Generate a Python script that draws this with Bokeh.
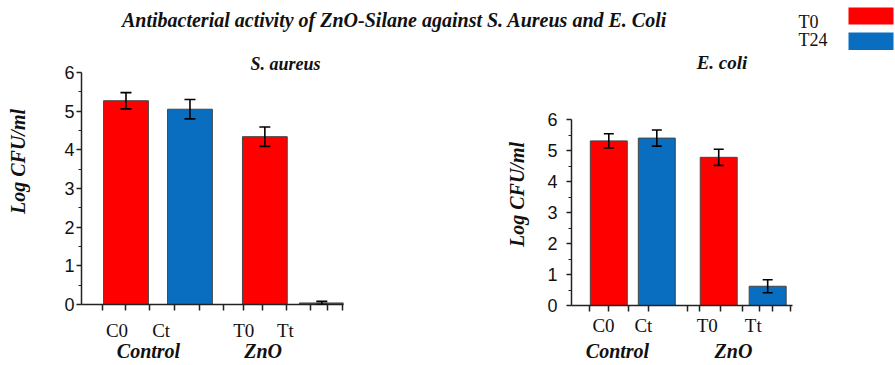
import math
from bokeh.plotting import figure
from bokeh.models import (Range1d, FixedTicker, Label, Whisker, TeeHead,
                          ColumnDataSource, LinearAxis, Title)
from bokeh.layouts import column, row
from bokeh.embed import file_html
from bokeh.resources import INLINE

# ---------------- data ----------------
title_text = "Antibacterial activity of ZnO-Silane against S. Aureus and E. Coli"
samples = ["C0", "Ct", "T0", "Tt"]
groups = ["Control", "ZnO"]
sample_time = ["T0", "T24", "T0", "T24"]
legend_labels = ["T0", "T24"]
y_ticks = [0, 1, 2, 3, 4, 5, 6]

sa_name = "S. aureus"
sa_values = [5.27, 5.05, 4.34, 0.04]
sa_errors = [0.21, 0.25, 0.25, 0.04]

ec_name = "E. coli"
ec_values = [5.31, 5.40, 4.78, 0.62]
ec_errors = [0.23, 0.26, 0.26, 0.21]

y_label = "Log CFU/ml"

# ---------------- style ----------------
RED = "#ff0000"
BLUE = "#0a6ec0"
time_colors = {"T0": RED, "T24": BLUE}
SERIF = "Liberation Serif"
SANS = "Liberation Sans"
TOP_H = 50
PANEL_H = 365 - TOP_H
NAME_H = 24


def strip(width, height, x_range, y_range):
    s = figure(width=width, height=height, output_backend="svg",
               toolbar_location=None, x_range=Range1d(*x_range),
               y_range=Range1d(*y_range), x_axis_type=None, y_axis_type=None,
               min_border_left=0, min_border_right=0, min_border_top=0,
               min_border_bottom=0)
    s.frame_align = False
    s.outline_line_color = None
    s.xgrid.visible = False
    s.ygrid.visible = False
    return s


def ylabel_strip(width, cx, cy):
    s = strip(width, PANEL_H, (0, width), (PANEL_H, 0))
    s.add_layout(Label(x=cx, y=cy, text=y_label, angle=math.pi / 2,
                       text_font=SERIF, text_font_style="bold italic",
                       text_font_size="20px", text_align="center",
                       text_baseline="middle", text_color="#111111"))
    return s


def panel(vals, errs, cfg, height):
    p = figure(width=cfg["width"], height=height, output_backend="svg",
               toolbar_location=None,
               x_range=Range1d(*cfg["xr"]), y_range=Range1d(0, 6),
               min_border_left=cfg["bl"], min_border_right=cfg["br"],
               min_border_top=cfg["bt"], min_border_bottom=cfg["bb"])
    p.frame_align = False
    p.outline_line_color = None
    p.xgrid.visible = False
    p.ygrid.visible = False

    src = ColumnDataSource(dict(
        x=cfg["bar_x"], top=vals,
        upper=[v + e for v, e in zip(vals, errs)],
        lower=[max(v - e, 0) for v, e in zip(vals, errs)],
        color=[time_colors[t] for t in sample_time]))
    p.vbar(x="x", top="top", width=cfg["bar_w"], source=src,
           fill_color="color", line_color="#444444", line_width=1)
    w = Whisker(source=src, base="x", upper="upper", lower="lower",
                line_color="black", line_width=1.6, level="overlay",
                upper_head=TeeHead(size=cfg["cap"], line_width=1.6, line_color="black"),
                lower_head=TeeHead(size=cfg["cap"], line_width=1.6, line_color="black"))
    p.add_layout(w)

    # y axis
    ya = p.yaxis[0]
    ya.ticker = FixedTicker(ticks=y_ticks, minor_ticks=[t + 0.5 for t in y_ticks[:-1]])
    ya.axis_line_color = "#222222"
    ya.axis_line_width = 1.5
    ya.major_tick_line_color = "#222222"
    ya.major_tick_line_width = 1.5
    ya.minor_tick_line_color = "#222222"
    ya.minor_tick_line_width = 1.2
    ya.major_tick_in = 0
    ya.major_tick_out = 5
    ya.minor_tick_in = 0
    ya.minor_tick_out = 3
    ya.major_label_standoff = cfg["ystand"]
    ya.major_label_text_font = SANS
    ya.major_label_text_font_size = "18px"
    ya.major_label_text_color = "#111111"

    # x axis: sample labels
    xa = p.xaxis[0]
    xa.ticker = FixedTicker(ticks=cfg["label_x"], minor_ticks=cfg["marks"])
    xa.major_label_overrides = {float(x): s for x, s in zip(cfg["label_x"], samples)}
    xa.axis_line_color = "#222222"
    xa.axis_line_width = 1.5
    xa.major_tick_line_color = None
    xa.major_tick_in = 0
    xa.major_tick_out = 0
    xa.minor_tick_line_color = "#222222"
    xa.minor_tick_line_width = 1.5
    xa.minor_tick_in = 0
    xa.minor_tick_out = 6
    xa.major_label_standoff = cfg["xstand"]
    xa.major_label_text_font = SERIF
    xa.major_label_text_font_size = "19px"
    xa.major_label_text_color = "#111111"

    # second x axis: group labels
    ga = LinearAxis(ticker=FixedTicker(ticks=cfg["group_x"], minor_ticks=[]),
                    major_label_overrides={float(x): g for x, g in zip(cfg["group_x"], groups)})
    ga.axis_line_color = None
    ga.major_tick_line_color = None
    ga.minor_tick_line_color = None
    ga.major_tick_in = 0
    ga.major_tick_out = 0
    ga.major_label_standoff = cfg["gstand"]
    ga.major_label_text_font = SERIF
    ga.major_label_text_font_style = "bold italic"
    ga.major_label_text_font_size = "20px"
    ga.major_label_text_color = "#111111"
    p.add_layout(ga, "below")
    return p


# column widths: label strip | left panel | label strip | right panel
left_cfg = dict(width=465, bl=46, br=157, bt=22, bb=61,
                xr=(0.305, 4.399), bar_x=[1.0, 2.0, 3.17, 4.06], bar_w=0.70,
                label_x=[0.86, 1.55, 2.84, 3.49],
                marks=[0.64, 0.99, 1.37, 1.76, 2.15, 2.52, 2.84, 3.14, 3.51,
                       3.88, 4.15, 4.39],
                group_x=[1.352, 3.144],
                ystand=2, xstand=9, gstand=-4, cap=11)

right_cfg = dict(width=363, bl=39, br=103, bt=119 - TOP_H - NAME_H, bb=60,
                 xr=(0.223, 4.827), bar_x=[1.0, 2.0, 3.29, 4.31], bar_w=0.77,
                 label_x=[0.89, 1.72, 3.05, 4.01],
                 marks=[0.60, 0.99, 1.41, 1.82, 2.64, 2.89, 3.33, 3.78, 4.14,
                        4.42, 4.78],
                 group_x=[1.181, 3.598],
                 ystand=9, xstand=3, gstand=1, cap=10)

p_left = panel(sa_values, sa_errors, left_cfg, PANEL_H)
p_left.title = Title(text=sa_name, align="left", offset=169, standoff=-2,
                     text_font=SERIF, text_font_style="bold italic",
                     text_font_size="18px", text_color="#111111")
p_right = panel(ec_values, ec_errors, right_cfg, PANEL_H - NAME_H)

# strip above the right panel holding its name
name_right = strip(363, NAME_H, (0, 363), (NAME_H, 0))
name_right.add_layout(Label(x=189.5, y=12, text=ec_name, text_font=SERIF,
                            text_font_style="bold italic", text_font_size="19px",
                            text_align="center", text_baseline="middle",
                            text_color="#111111"))

lab_left = ylabel_strip(35, 17, 161 - TOP_H)
lab_right = ylabel_strip(32, 16, 194 - TOP_H)

# ---------------- header: title and legend ----------------
top = strip(895, TOP_H, (0, 895), (TOP_H, 0))
top.add_layout(Label(x=394, y=19, text=title_text, text_font=SERIF,
                     text_font_style="bold italic", text_font_size="20px",
                     text_align="center", text_baseline="middle",
                     text_color="#111111"))
leg_src = ColumnDataSource(dict(left=[848, 848], right=[893, 893],
                                top=[7, 32], bottom=[24, 50],
                                color=[time_colors[t] for t in legend_labels]))
top.quad(left="left", right="right", top="top", bottom="bottom", source=leg_src,
         fill_color="color", line_color=None)
for ly, lab in zip([21, 39.5], legend_labels):
    top.add_layout(Label(x=798, y=ly, text=lab, text_font=SERIF,
                         text_font_size="18px", text_align="left",
                         text_baseline="middle", text_color="#111111"))

layout = column(top, row(lab_left, p_left, lab_right, column(name_right, p_right)))
open("out.html", "w").write(file_html(layout, INLINE))
